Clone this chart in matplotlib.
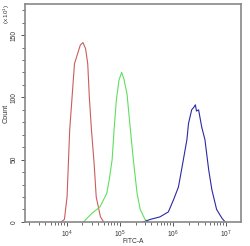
import numpy as np
import matplotlib
matplotlib.use("Agg")
import matplotlib.pyplot as plt
from matplotlib.ticker import LogLocator, MultipleLocator, NullFormatter

plt.rcParams["font.family"] = ["Liberation Sans", "DejaVu Sans"]
plt.rcParams["mathtext.fontset"] = "custom"
plt.rcParams["mathtext.rm"] = "Liberation Sans"

# histogram outlines: log10(FITC-A), count (x10)
red_logx = [3.90, 3.96, 4.01, 4.06, 4.15, 4.26, 4.31, 4.36, 4.40, 4.43, 4.47, 4.52, 4.56, 4.64, 4.70]
red_cnt = [0, 2, 20, 74, 127, 142, 144, 139, 127, 100, 74, 47, 20, 4, 0]

green_logx = [4.32, 4.48, 4.63, 4.76, 4.81, 4.86, 4.90, 4.94, 4.99, 5.04, 5.08, 5.14, 5.20, 5.26, 5.33, 5.39, 5.48, 5.54]
green_cnt = [0, 7, 12, 23, 35, 50, 76, 98, 114, 120, 115, 103, 76, 50, 23, 10, 2, 0]

blue_logx = [5.45, 5.58, 5.76, 5.92, 6.02, 6.11, 6.17, 6.27, 6.30, 6.36, 6.40, 6.43, 6.45, 6.49, 6.55, 6.61, 6.68, 6.74, 6.83, 6.93, 6.99]
blue_cnt = [0, 2, 4, 8, 18, 28, 42, 66, 79, 90, 92, 94, 89, 90, 76, 66, 42, 26, 10, 3, 0]

colors = ["#cc5c5c", "#5ee05e", "#2a2aa0"]
xticks = [1e4, 1e5, 1e6, 1e7]
xlabels = [r"$10^4$", r"$10^5$", r"$10^6$", r"$10^7$"]

fig = plt.figure(figsize=(2.5, 2.46), dpi=100)
ax = fig.add_axes([0.1, 0.098, 0.864, 0.886])

for lx, c, col in [(red_logx, red_cnt, colors[0]),
                   (green_logx, green_cnt, colors[1]),
                   (blue_logx, blue_cnt, colors[2])]:
    ax.plot(10 ** np.array(lx), c, color=col, lw=0.8)

ax.set_xscale("log")
ax.set_xlim(10 ** 3.217, 10 ** 7.29)
ax.set_ylim(0, 175)

ax.xaxis.set_minor_locator(LogLocator(base=10, subs=np.arange(2, 10), numticks=20))
ax.xaxis.set_minor_formatter(NullFormatter())
ax.set_xticks(xticks)
ax.set_xticklabels(xlabels)
ax.yaxis.set_major_locator(MultipleLocator(50))
ax.yaxis.set_minor_locator(MultipleLocator(10))

ax.tick_params(axis="both", which="both", direction="out", color="#555555",
               labelsize=4.8, labelcolor="#333333")
ax.tick_params(which="major", length=3, width=0.7)
ax.tick_params(which="minor", length=2, width=0.6)
ax.tick_params(axis="y", pad=2.5)
ax.tick_params(axis="x", pad=2)
for lab in ax.get_yticklabels():
    lab.set_rotation(90)
    lab.set_va("center")

for s in ax.spines.values():
    s.set_color("#888888")
    s.set_linewidth(1.2)

fig.text(0.532, 0.02, "FITC-A", fontsize=4.8, color="#333333",
         ha="center", va="center")
fig.text(0.024, 0.54, "Count", rotation=90, fontsize=5.2, color="#333333",
         ha="center", va="center")
fig.text(0.026, 0.945, r"(x 10$^1$)", rotation=90, fontsize=4.5, color="#333333",
         ha="center", va="center")

fig.savefig("out.png", dpi=100)
